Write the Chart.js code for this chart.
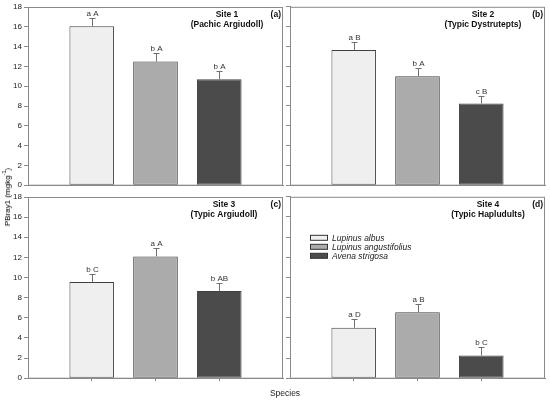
<!DOCTYPE html>
<html>
<head>
<meta charset="utf-8">
<script src="https://cdn.jsdelivr.net/npm/chart.js@4/dist/chart.umd.min.js"></script>
<style>
  html, body { margin: 0; padding: 0; background: #fff; }
  #wrap { position: relative; width: 550px; height: 402px; font-family: 'Liberation Sans', Arial, sans-serif; color: #222; }
  #wrap canvas { position: absolute; }
  .ytitle { position: absolute; left: 3px; top: 168px; writing-mode: vertical-rl; transform: rotate(180deg); font-size: 8px; line-height: 10px; color: #000; white-space: nowrap; z-index: 2; }
  .ytitle sup { font-size: 5.5px; line-height: 0; }
  .xtitle { position: absolute; left: 285px; top: 393px; transform: translate(-50%, -50%); font-size: 8.5px; }
</style>
</head>
<body>
<div id="wrap">
  <canvas id="site1"></canvas>
  <canvas id="site2"></canvas>
  <canvas id="site3"></canvas>
  <canvas id="site4"></canvas>
  <div class="ytitle">PBray1 (mgkg<sup>-1</sup>)</div>
  <div class="xtitle">Species</div>
</div>
<script>
// data
const species = ['Lupinus albus', 'Lupinus angustifolius', 'Avena strigosa'];
const speciesColors = ['#efefef', '#ababab', '#4b4b4b'];
const siteNames = ['Site 1', 'Site 2', 'Site 3', 'Site 4'];
const soilNames = ['(Pachic Argiudoll)', '(Typic Dystrutepts)', '(Typic Argiudoll)', '(Typic Hapludults)'];
const panelTags = ['(a)', '(b)', '(c)', '(d)'];

const site1Means = [16.05, 12.5, 10.7];
const site2Means = [13.65, 11.0, 8.25];
const site3Means = [9.55, 12.1, 8.65];
const site4Means = [5.0, 6.55, 2.25];

const site1Err = [0.8, 0.9, 0.85];
const site2Err = [0.8, 0.85, 0.8];
const site3Err = [0.8, 0.85, 0.8];
const site4Err = [0.85, 0.85, 0.8];

const site1Letters = ['a A', 'b A', 'b A'];
const site2Letters = ['a B', 'b A', 'c B'];
const site3Letters = ['b C', 'a A', 'b AB'];
const site4Letters = ['a D', 'a B', 'b C'];

const yMin = 0, yMax = 18, yStep = 2;

const FONT = "'Liberation Sans', Arial, sans-serif";
const AXIS = '#8a8a8a';

// error bars, letters, site titles, box and (optionally) the legend
const panelDecor = {
  id: 'panelDecor',
  afterDatasetsDraw(chart, args, opts) {
    const { ctx, chartArea: a, scales: { x, y } } = chart;
    ctx.save();
    ctx.strokeStyle = AXIS;
    ctx.lineWidth = 1;
    ctx.strokeRect(a.left + 0.5, a.top + 0.5, a.right - a.left - 1, a.bottom - a.top - 0.5);

    chart.data.datasets.forEach((ds, i) => {
      const idx = i + 1;
      const v = ds.data[idx];
      const px = Math.round(x.getPixelForValue(idx)) + 0.5;
      const y0 = y.getPixelForValue(v);
      const y1 = Math.round(y.getPixelForValue(v + opts.errors[i])) + 0.5;
      ctx.strokeStyle = '#707070';
      ctx.beginPath();
      ctx.moveTo(px, y0);
      ctx.lineTo(px, y1);
      ctx.moveTo(px - 3, y1);
      ctx.lineTo(px + 3, y1);
      ctx.stroke();
      ctx.fillStyle = '#333';
      ctx.font = '8px ' + FONT;
      ctx.textAlign = 'center';
      ctx.textBaseline = 'bottom';
      ctx.fillText(opts.letters[i], px, y1 - 1);
    });

    ctx.fillStyle = '#111';
    ctx.font = 'bold 8.5px ' + FONT;
    ctx.textAlign = 'center';
    ctx.textBaseline = 'middle';
    const cx = a.right - opts.titleRight;
    ctx.fillText(opts.site, cx, a.top + 8);
    ctx.fillText(opts.soil, cx, a.top + 18);
    ctx.textAlign = 'right';
    ctx.fillText(opts.tag, a.right - 2, a.top + 8);

    if (opts.legend) {
      ctx.font = 'italic 8.5px ' + FONT;
      ctx.textAlign = 'left';
      chart.data.datasets.forEach((ds, i) => {
        const ry = a.top + 41 + i * 9;
        ctx.fillStyle = ds.backgroundColor;
        ctx.fillRect(a.left + 20, ry - 2.5, 17, 5);
        ctx.strokeStyle = '#333';
        ctx.strokeRect(a.left + 20.5, ry - 2.5, 17, 5);
        ctx.fillStyle = '#222';
        ctx.fillText(ds.label, a.left + 42, ry + 0.5);
      });
    }
    ctx.restore();
  }
};

function makePanel(id, box, means, errors, letters, n, cfg) {
  const el = document.getElementById(id);
  el.style.left = box.left + 'px';
  el.style.top = box.top + 'px';
  el.style.width = box.w + 'px';
  el.style.height = box.h + 'px';

  const datasets = species.map((name, i) => {
    const data = [null, null, null, null, null];
    data[i + 1] = means[i];
    return {
      label: name,
      data: data,
      backgroundColor: speciesColors[i],
      borderColor: '#404040',
      borderWidth: 1,
      borderSkipped: false
    };
  });

  return new Chart(el, {
    type: 'bar',
    data: { labels: ['', ...species, ''], datasets: datasets },
    options: {
      responsive: false,
      maintainAspectRatio: false,
      animation: false,
      devicePixelRatio: 1,
      layout: { padding: { top: cfg.padTop, right: cfg.padRight, left: 0, bottom: 0 } },
      datasets: { bar: { grouped: false, categoryPercentage: 1, barPercentage: 0.7 } },
      scales: {
        x: {
          offset: false,
          border: { color: AXIS },
          grid: {
            offset: false,
            drawOnChartArea: false,
            tickLength: cfg.xTicks ? 3 : 0,
            color: ctx => (ctx.index === 0 || ctx.index === 4 || !cfg.xTicks) ? 'rgba(0,0,0,0)' : AXIS
          },
          ticks: { display: false },
          afterFit: s => { s.height = cfg.xHeight; }
        },
        y: {
          min: yMin,
          max: yMax,
          border: { color: AXIS },
          grid: { drawOnChartArea: false, tickLength: 4, color: AXIS },
          ticks: {
            stepSize: yStep,
            padding: 2,
            color: '#222',
            font: { family: FONT, size: 8 },
            callback: v => cfg.yLabels ? v : ''
          },
          afterFit: s => { s.width = cfg.yWidth; }
        }
      },
      plugins: {
        legend: { display: false },
        tooltip: { enabled: false },
        panelDecor: {
          errors: errors,
          letters: letters,
          site: siteNames[n],
          soil: soilNames[n],
          tag: panelTags[n],
          titleRight: cfg.titleRight,
          legend: cfg.legend
        }
      }
    },
    plugins: [panelDecor]
  });
}

makePanel('site1', { left: 0, top: 0, w: 286, h: 192 }, site1Means, site1Err, site1Letters, 0,
  { padTop: 7, padRight: 3, xHeight: 3, yWidth: 28, yLabels: true, xTicks: false, titleRight: 56, legend: false });
makePanel('site2', { left: 280, top: 0, w: 270, h: 192 }, site2Means, site2Err, site2Letters, 1,
  { padTop: 6, padRight: 5, xHeight: 3, yWidth: 10, yLabels: false, xTicks: false, titleRight: 62, legend: false });
makePanel('site3', { left: 0, top: 190, w: 286, h: 195 }, site3Means, site3Err, site3Letters, 2,
  { padTop: 7, padRight: 3, xHeight: 6, yWidth: 28, yLabels: true, xTicks: true, titleRight: 59, legend: false });
makePanel('site4', { left: 280, top: 190, w: 270, h: 195 }, site4Means, site4Err, site4Letters, 3,
  { padTop: 6, padRight: 5, xHeight: 6, yWidth: 10, yLabels: false, xTicks: true, titleRight: 57, legend: true });
</script>
</body>
</html>
